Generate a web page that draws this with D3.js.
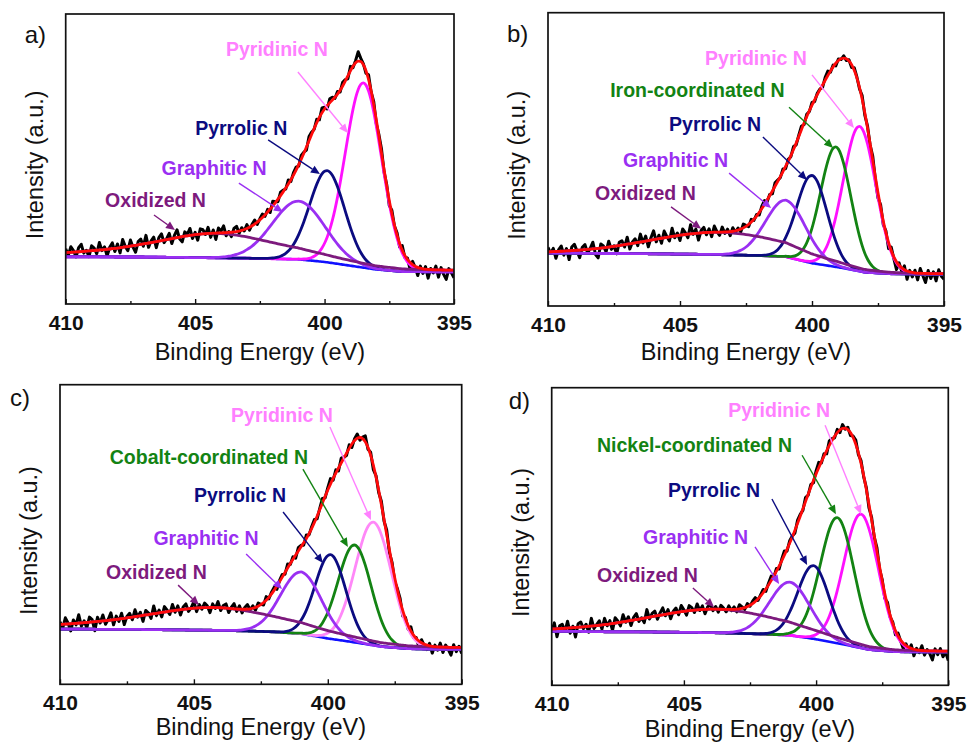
<!DOCTYPE html>
<html>
<head>
<meta charset="utf-8">
<script src="https://cdn.jsdelivr.net/npm/d3@7"></script>
<style>
  body { margin: 0; background: #fff; }
  svg { display: block; font-family: "Liberation Sans", Arial, sans-serif; }
</style>
</head>
<body>
<div id="chart"></div>
<script>
// ---- data ----
const energyTicks = [410, 405, 400, 395];
const minorTicks = [407.5, 402.5, 397.5];

// background (Shirley) sampled every 1 eV, 410 -> 395
const bgEnergy = [410, 409, 408, 407, 406, 405, 404, 403, 402, 401, 400, 399, 398, 397, 396, 395];
const bgA = [16.3, 16.3, 16.2, 16.2, 16.1, 16.0, 15.9, 15.8, 15.6, 15.4, 14.5, 13.2, 11.9, 11.2, 11.1, 11.1];
const bgB = [18.0, 18.0, 17.9, 17.9, 17.8, 17.7, 17.6, 17.4, 17.2, 16.8, 14.6, 13.2, 11.5, 11.0, 10.9, 10.9];
const bgC = [18.4, 18.4, 18.3, 18.3, 18.2, 18.1, 18.0, 17.8, 17.5, 16.9, 15.3, 14.0, 12.6, 11.9, 11.7, 11.7];
const bgD = [18.1, 18.1, 18.0, 18.0, 17.9, 17.8, 17.7, 17.5, 17.2, 16.8, 15.5, 13.8, 12.0, 11.3, 11.2, 11.2];

// fitted components: centre (eV), height above background, FWHM (eV), Lorentzian fraction
const namesA = ["Oxidized N", "Graphitic N", "Pyrrolic N", "Pyridinic N"];
const centersA = [404.2, 401.0, 399.9, 398.5];
const heightsA = [8.4, 20.1, 31.6, 63.7];
const fwhmA = [6.0, 2.4, 1.6, 1.65];
const mixA = [0.7, 0, 0, 0];

const namesB = ["Oxidized N", "Graphitic N", "Pyrrolic N", "Iron-coordinated N", "Pyridinic N"];
const centersB = [403.5, 401.0, 400.0, 399.1, 398.2];
const heightsB = [7.6, 19.3, 29.9, 40.9, 49.4];
const fwhmB = [6.2, 1.8, 1.35, 1.35, 1.45];
const mixB = [0.1, 0, 0, 0, 0];

const namesC = ["Oxidized N", "Graphitic N", "Pyrrolic N", "Cobalt-coordinated N", "Pyridinic N"];
const centersC = [404.3, 401.0, 399.9, 399.0, 398.3];
const heightsC = [7.6, 20.6, 28.1, 32.5, 41.1];
const fwhmC = [6.5, 1.8, 1.35, 1.45, 1.6];
const mixC = [0.7, 0, 0, 0, 0];

const namesD = ["Oxidized N", "Graphitic N", "Pyrrolic N", "Nickel-coordinated N", "Pyridinic N"];
const centersD = [403.8, 401.0, 400.1, 399.2, 398.3];
const heightsD = [7.9, 17.9, 24.6, 42.2, 45.0];
const fwhmD = [6.2, 1.8, 1.4, 1.5, 1.55];
const mixD = [0.3, 0, 0, 0, 0];

// measured minus fit, every 0.1 eV from 410 to 395
const noiseA = [
  1.3,-1.0,1.9,0.5,-1.7,1.4,2.5,-0.6,0.3,-2.0,
  1.7,0.8,-1.2,2.6,-0.3,0.9,-2.3,0.6,2.0,-1.1,
  1.4,-1.8,2.7,0.2,-1.4,2.1,-0.5,-2.4,1.1,1.8,
  -0.8,2.8,-1.5,0.6,1.7,-2.1,1.2,2.3,-0.9,0.3,
  2.0,-1.7,0.9,2.7,-0.6,-1.8,1.5,0.5,2.4,-1.2,
  0.8,-2.0,1.8,1.4,-0.3,2.1,-1.4,1.1,-2.2,1.7,
  0.6,2.4,-1.1,0.3,-1.5,1.2,1.8,-0.8,0.9,-0.5,
  1.3,-1.0,0.5,1.4,-0.8,0.4,1.2,-0.5,0.9,-1.2,
  1.6,0.3,-0.9,1.2,0.6,-0.4,1.4,-0.6,0.8,1.0,
  -0.5,1.3,0.4,-1.0,1.5,0.8,-0.3,1.2,-0.8,1.7,
  0.6,-1.1,1.4,1.0,-0.4,0.9,-0.6,1.3,0.5,-1.0,
  1.5,-0.5,0.8,3.2,1.1,0.3,-0.9,1.6,-0.4,1.0,
  -1.3,0.6,1.4,-0.8,0.4,-1.8,1.2,-0.3,0.8,-1.2,
  1.6,-0.7,0.5,-2.3,1.1,-0.4,-2.8,0.7,-1.6,0.9,
  -3.0,0.4,-1.1,1.3,-2.5,0.8,-1.5,-3.2,0.5,-0.9,-2.6
];
const noiseB = [
  1.5,-0.6,1.1,-2.3,0.5,1.8,-1.4,0.8,-3.0,1.2,
  2.1,-0.3,-2.6,0.9,1.7,-1.2,0.3,2.3,-2.0,-3.2,
  1.4,0.6,-1.5,2.0,-0.9,0.2,-2.7,1.1,1.5,-0.8,
  2.4,-1.8,0.5,1.4,-1.1,2.7,-0.5,1.7,-2.1,0.8,
  3.0,-0.9,1.2,-1.7,2.3,0.3,-1.4,2.8,-0.6,0.9,
  -1.8,2.0,0.6,-1.2,3.1,-0.3,1.4,-2.4,0.8,1.8,
  -0.8,1.2,-1.5,2.1,0.2,-1.1,1.7,-0.5,0.9,-1.4,
  1.2,-0.5,0.7,-1.0,1.3,0.3,-0.8,0.9,-0.4,0.5,
  -0.9,0.8,1.3,-0.6,0.4,-1.0,1.2,0.5,-0.3,0.9,
  -0.8,0.6,-0.4,1.0,-0.6,0.4,1.2,-0.5,0.8,-0.3,
  0.9,-0.6,0.5,0.3,-0.8,1.0,1.5,-0.4,0.6,-0.9,
  0.5,-0.3,0.8,-0.6,0.4,-1.0,0.9,0.3,-0.5,1.2,
  -0.8,0.7,-0.4,1.4,-1.0,-1.8,0.9,-1.3,0.6,-2.1,
  1.2,-0.6,-2.7,0.8,-1.2,1.3,-2.8,0.5,-1.5,0.9,
  -2.3,1.6,-0.8,-3.1,1.0,-1.7,0.6,-2.5,1.3,-0.9,-1.9
];
const noiseC = [
  0.9,-1.4,2.1,0.3,-2.4,1.2,-0.5,2.8,-1.1,0.6,
  -1.8,1.7,0.8,-3.0,1.4,-0.6,2.0,-1.2,0.3,2.4,
  -1.7,1.1,-0.8,1.8,-2.1,0.5,1.4,-0.9,2.3,-0.3,
  1.2,-2.0,1.5,0.6,-1.4,2.6,-0.8,0.9,-1.5,1.8,
  0.5,-1.1,2.1,-0.6,1.4,-1.8,0.8,1.7,-0.9,0.3,
  2.2,-1.2,1.1,-0.5,1.5,0.6,-1.7,1.2,-0.3,2.0,
  -0.9,0.8,1.4,-1.4,0.5,1.7,-0.8,1.1,-1.2,0.6,
  1.5,-0.4,0.8,-0.9,1.1,0.1,-0.8,1.2,-0.5,0.6,
  1.0,-1.1,0.4,0.9,-0.6,1.3,-0.3,0.8,-1.0,1.1,
  0.5,-0.8,1.2,-0.4,0.6,1.0,-0.9,0.4,1.5,-0.5,
  0.8,1.8,-0.6,1.1,-1.0,1.6,0.3,-0.8,1.2,-1.1,
  0.6,1.4,-0.9,0.5,2.0,-0.6,1.0,-1.5,0.4,-0.8,
  1.1,-0.5,1.5,-1.0,0.6,-1.3,0.4,0.9,-1.8,0.5,
  -1.2,1.4,-0.8,0.3,-2.0,1.0,-0.4,-1.5,0.8,-2.3,
  0.5,-1.1,1.3,-1.8,0.7,-0.8,-2.6,0.9,-1.4,0.4,-2.0
];
const noiseD = [
  -0.8,2.0,-2.7,0.9,1.4,-1.1,2.3,-1.8,0.5,-3.2,
  1.2,1.7,-0.6,0.8,-2.0,2.6,-0.9,0.3,1.5,-1.4,
  2.1,-0.5,1.1,-2.3,1.8,0.6,-1.2,2.4,-0.3,1.4,
  -1.7,0.9,2.0,-0.8,0.3,-1.5,2.7,-0.6,1.1,1.7,
  -1.2,0.8,2.3,-0.5,1.4,-1.8,0.6,1.5,-0.9,2.1,
  0.5,-1.4,1.7,0.9,-0.8,2.0,-0.3,1.2,-1.5,0.8,
  1.6,-0.5,0.9,-1.0,1.3,0.4,-0.8,1.2,-0.4,0.8,
  -0.9,1.4,0.5,-0.6,1.0,-0.3,0.8,1.3,-0.5,0.4,
  1.1,-0.8,0.6,1.5,-0.4,0.9,-1.0,0.5,1.4,-0.6,
  0.8,0.3,-0.9,1.1,0.6,-0.5,1.3,-0.3,0.9,-0.8,
  1.0,1.8,-0.4,0.8,-1.1,1.5,0.6,-0.5,1.1,-0.9,
  1.3,-0.3,0.8,-1.0,0.5,1.4,-0.6,0.9,-0.4,0.6,
  -1.2,0.8,-0.5,1.3,-0.9,0.4,-1.6,1.0,-0.6,0.5,
  -1.4,0.9,-0.4,-1.9,0.6,-1.1,1.2,-2.2,0.5,-0.8,
  1.6,-1.5,0.4,-0.9,-3.0,0.7,-1.2,0.8,-1.9,-0.4,-3.2
];

// ---- styling / layout ----
const curveColor = {
  "Oxidized N": "#7d1a7d",
  "Graphitic N": "#9a2ff2",
  "Pyrrolic N": "#0b0b80",
  "Pyridinic N": "#ff10ff",
  "Iron-coordinated N": "#138313",
  "Cobalt-coordinated N": "#138313",
  "Nickel-coordinated N": "#138313"
};
const labelColor = Object.assign({}, curveColor, { "Pyridinic N": "#ff80ff" });

// label anchors / arrows in data units [eV, intensity]
const annotA = [
  { t: [406.53, 33.4], a: [406.59, 30.7], b: [405.78, 25.5] },
  { t: [404.27, 44.5], a: [403.31, 41.7], b: [401.61, 31.7] },
  { t: [403.22, 58.3], a: [402.18, 56.6], b: [400.18, 44.8] },
  { t: [401.84, 85.5], a: [401.03, 80.0], b: [399.10, 59.0] }
];
const annotB = [
  { t: [406.31, 36.1], a: [405.34, 33.8], b: [404.2, 26.3] },
  { t: [405.17, 47.4], a: [403.14, 45.3], b: [401.55, 33.4] },
  { t: [403.67, 59.7], a: [401.86, 57.6], b: [400.19, 43.0] },
  { t: [404.34, 71.3], a: [400.87, 67.8], b: [399.2, 53.9] },
  { t: [402.12, 82.2], a: [400.0, 78.8], b: [398.41, 60.7] }
];
const annotC = [
  { t: [406.40, 35.1], a: [405.59, 33.1], b: [404.81, 26.5] },
  { t: [404.55, 46.5], a: [403.05, 43.5], b: [401.71, 31.8] },
  { t: [403.28, 60.8], a: [401.67, 57.5], b: [400.18, 40.5] },
  { t: [404.44, 73.5], a: [400.93, 71.8], b: [399.25, 45.8] },
  { t: [401.71, 87.5], a: [399.92, 85.9], b: [398.39, 54.8] }
];
const annotD = [
  { t: [406.38, 34.7], a: [404.66, 32.7], b: [403.86, 26.3] },
  { t: [404.56, 47.5], a: [402.31, 46.5], b: [401.40, 34.0] },
  { t: [403.86, 63.3], a: [401.67, 62.6], b: [400.34, 40.4] },
  { t: [404.60, 78.4], a: [400.53, 77.3], b: [399.25, 57.5] },
  { t: [401.40, 90.1], a: [399.66, 87.4], b: [398.30, 57.5] }
];

const panels = [
  { tag: "a)", box: [65.7, 14, 454, 304], tagPos: [-41, 29], titleDy: 56, bg: bgA, names: namesA, centers: centersA, heights: heightsA, fwhm: fwhmA, mix: mixA, noise: noiseA, annot: annotA, pyr: "#ff10ff" },
  { tag: "b)", box: [548, 12.7, 944, 306], tagPos: [-41, 29], titleDy: 54, bg: bgB, names: namesB, centers: centersB, heights: heightsB, fwhm: fwhmB, mix: mixB, noise: noiseB, annot: annotB, pyr: "#ff10ff" },
  { tag: "c)", box: [60, 384.7, 461.7, 684.3], tagPos: [-50, 21], titleDy: 51, bg: bgC, names: namesC, centers: centersC, heights: heightsC, fwhm: fwhmC, mix: mixC, noise: noiseC, annot: annotC, pyr: "#ff88f8" },
  { tag: "d)", box: [551.7, 387.7, 948.3, 685.3], tagPos: [-43, 21], titleDy: 52, bg: bgD, names: namesD, centers: centersD, heights: heightsD, fwhm: fwhmD, mix: mixD, noise: noiseD, annot: annotD, pyr: "#ff10ff" }
];

const svg = d3.select("#chart").append("svg")
  .attr("width", 968)
  .attr("height", 744);

// Gaussian-Lorentzian (pseudo-Voigt) line shape
function peak(e, c, h, w, eta) {
  const q = (e - c) * (e - c) / (w * w);
  return h * ((1 - eta) * Math.exp(-4 * Math.LN2 * q) + eta / (1 + 4 * q));
}

panels.forEach((p, pi) => {
  const [x0, y0, x1, y1] = p.box;
  const W = x1 - x0, H = y1 - y0;
  const x = d3.scaleLinear().domain([410, 395]).range([0, W]);
  const y = d3.scaleLinear().domain([0, 100]).range([H, 0]);

  const g = svg.append("g").attr("transform", `translate(${x0},${y0})`);

  g.append("clipPath").attr("id", "clip" + pi)
    .append("rect").attr("width", W).attr("height", H);

  // background value between the 1 eV samples
  const bgScale = d3.scaleLinear().domain(bgEnergy).range(p.bg);

  const n = p.noise.length;
  const energy = d3.range(n).map(i => 410 - i * 15 / (n - 1));
  const comp = (e, k) => peak(e, p.centers[k], p.heights[k], p.fwhm[k], p.mix[k]);

  const comps = p.centers.map((c, k) => ({
    name: p.names[k],
    pts: energy.map(e => ({ e: e, v: bgScale(e) + comp(e, k) }))
  }));
  const envelope = energy.map(e => ({
    e: e, v: bgScale(e) + d3.sum(p.centers, (c, k) => comp(e, k))
  }));
  const raw = envelope.map((d, i) => ({ e: d.e, v: d.v + p.noise[i] }));
  const bgLine = energy.map(e => ({ e: e, v: bgScale(e) }));

  const line = d3.line().x(d => x(d.e)).y(d => y(d.v)).curve(d3.curveMonotoneX);
  const plot = g.append("g").attr("clip-path", `url(#clip${pi})`);

  plot.append("path").datum(raw)
    .attr("fill", "none").attr("stroke", "#000").attr("stroke-width", 3)
    .attr("stroke-linejoin", "round")
    .attr("d", d3.line().x(d => x(d.e)).y(d => y(d.v)));

  plot.append("path").datum(bgLine)
    .attr("fill", "none").attr("stroke", "#1010ff").attr("stroke-width", 2.6)
    .attr("d", line);

  // pyridinic first, oxidized last (as in the original overlay order)
  plot.selectAll(".comp")
    .data(comps.slice().reverse())
    .join("path")
    .attr("class", "comp")
    .attr("fill", "none")
    .attr("stroke", d => d.name === "Pyridinic N" ? p.pyr : curveColor[d.name])
    .attr("stroke-width", 2.8)
    .attr("d", d => line(d.pts));

  plot.append("path").datum(envelope)
    .attr("fill", "none").attr("stroke", "#ff0a0a").attr("stroke-width", 2.8)
    .attr("d", line);

  // frame
  g.append("rect").attr("width", W).attr("height", H)
    .attr("fill", "none").attr("stroke", "#111").attr("stroke-width", 1.7);

  // x axis, ticks pointing in
  const ax = g.append("g").attr("transform", `translate(0,${H})`)
    .call(d3.axisBottom(x).tickValues(energyTicks).tickSize(-5).tickPadding(11).tickFormat(d3.format("d")));
  ax.select(".domain").remove();
  ax.selectAll("line").attr("stroke", "#111").attr("stroke-width", 1.4);
  ax.selectAll("text").attr("font-size", 21).attr("font-weight", "bold").attr("fill", "#111")
    .attr("font-family", "Liberation Sans, Arial, sans-serif");

  const mx = g.append("g").attr("transform", `translate(0,${H})`)
    .call(d3.axisBottom(x).tickValues(minorTicks).tickSize(-3).tickFormat(""));
  mx.select(".domain").remove();
  mx.selectAll("line").attr("stroke", "#111").attr("stroke-width", 1.4);

  g.append("text")
    .attr("x", W / 2).attr("y", H + p.titleDy)
    .attr("text-anchor", "middle").attr("font-size", 23.5).attr("fill", "#111")
    .text("Binding Energy (eV)");

  g.append("text")
    .attr("transform", `translate(-23,${H * 0.52}) rotate(-90)`)
    .attr("text-anchor", "middle").attr("font-size", 23.5).attr("fill", "#111")
    .text("Intensity (a.u.)");

  g.append("text")
    .attr("x", p.tagPos[0]).attr("y", p.tagPos[1])
    .attr("font-size", 24).attr("fill", "#111")
    .text(p.tag);

  // annotations with arrows
  p.annot.forEach((an, k) => {
    const name = p.names[k];
    const col = labelColor[name];
    const ax1 = x(an.a[0]), ay1 = y(an.a[1]);
    const ax2 = x(an.b[0]), ay2 = y(an.b[1]);
    const ang = Math.atan2(ay2 - ay1, ax2 - ax1);
    const L = 9, Wd = 4;
    const bx = ax2 - L * Math.cos(ang), by = ay2 - L * Math.sin(ang);
    g.append("line")
      .attr("x1", ax1).attr("y1", ay1).attr("x2", bx).attr("y2", by)
      .attr("stroke", col).attr("stroke-width", 1.4);
    g.append("path")
      .attr("d", `M${ax2},${ay2}L${bx - Wd * Math.sin(ang)},${by + Wd * Math.cos(ang)}L${bx + Wd * Math.sin(ang)},${by - Wd * Math.cos(ang)}Z`)
      .attr("fill", col);
    g.append("text")
      .attr("x", x(an.t[0])).attr("y", y(an.t[1]))
      .attr("text-anchor", "middle")
      .attr("font-size", 19.5).attr("font-weight", "bold")
      .attr("fill", col)
      .text(name);
  });
});
</script>
</body>
</html>
